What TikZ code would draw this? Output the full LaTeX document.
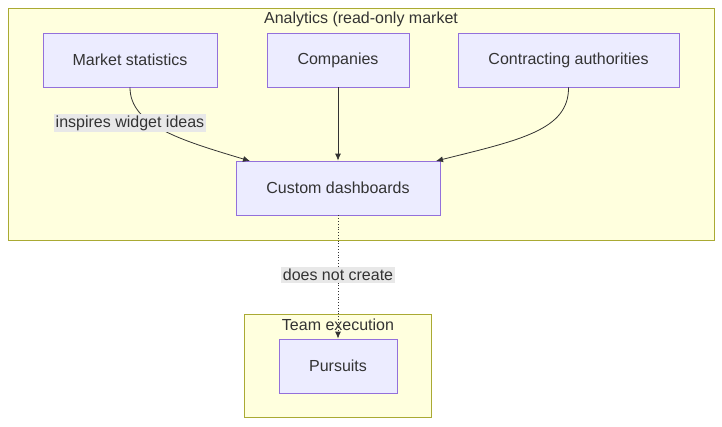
\documentclass[tikz,border=0pt]{standalone}
\usepackage{fontspec}
\setmainfont{Liberation Sans}
\usetikzlibrary{arrows.meta}
\definecolor{clf}{HTML}{FFFFDE}
\definecolor{cls}{HTML}{AAAA33}
\definecolor{nf}{HTML}{ECECFF}
\definecolor{ns}{HTML}{9370DB}
\definecolor{tx}{HTML}{333333}
\definecolor{lb}{HTML}{E8E8E8}
\begin{document}
\begin{tikzpicture}[x=1pt,y=-1pt,
  every node/.style={font=\fontsize{16}{19}\selectfont, text=tx},
  box/.style={draw=ns, fill=nf, line width=0.8pt, inner sep=0pt},
  clus/.style={draw=cls, fill=clf, line width=0.8pt},
  lab/.style={fill=lb, inner sep=2pt},
  edge/.style={draw=tx, line width=0.8pt, -{Latex[length=7pt,width=6pt]}}]
\useasboundingbox (0,0) rectangle (722,426);
\draw[clus] (8,8) rectangle (714,240);
\node at (361,19) {Analytics (read-only market};
\draw[clus] (244,314) rectangle (431,417);
\node at (338,325) {Team execution};
\node[box, minimum width=174pt, minimum height=54pt] (ms) at (130,60) {Market statistics};
\node[box, minimum width=142pt, minimum height=54pt] (co) at (338,60) {Companies};
\node[box, minimum width=221pt, minimum height=54pt] (ca) at (568.5,60) {Contracting authorities};
\node[box, minimum width=204pt, minimum height=54pt] (cd) at (338,188) {Custom dashboards};
\node[box, minimum width=118pt, minimum height=54pt] (pu) at (338,366) {Pursuits};
\draw[edge] (ms.south) .. controls (130,125) and (180,140) .. (250,161);
\node[lab] at (130,123) {inspires widget ideas};
\draw[edge] (co.south) -- (cd.north);
\draw[edge] (ca.south) .. controls (569,130) and (520,140) .. (436,161);
\draw[edge, dotted] (cd.south) -- (pu.north);
\node[lab] at (338,275) {does not create};
\end{tikzpicture}
\end{document}
